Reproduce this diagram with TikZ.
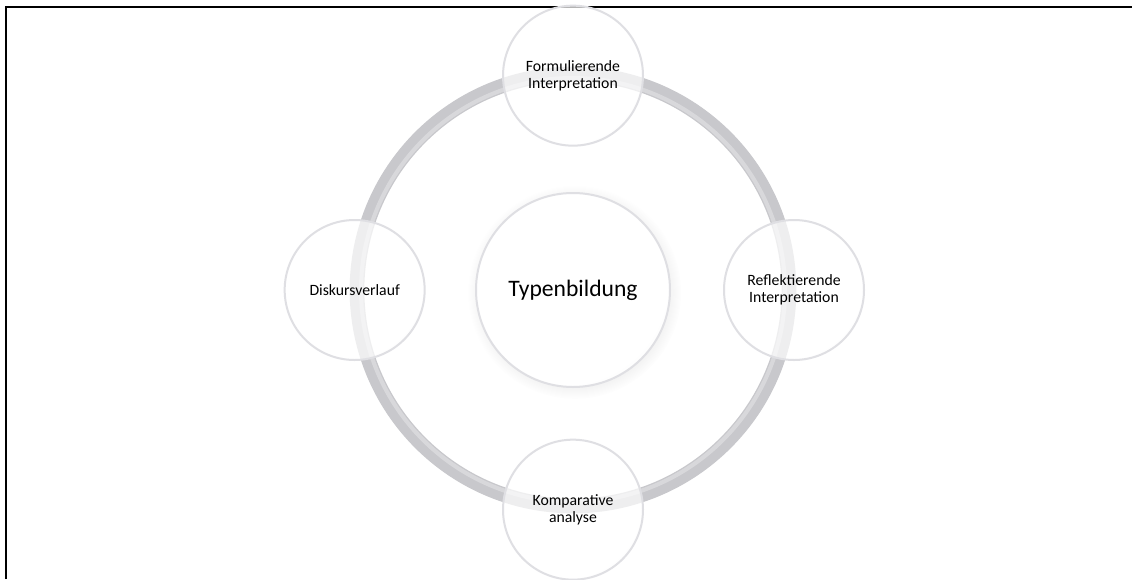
\documentclass[tikz,border=0pt]{standalone}
\usepackage{fontspec}
\setmainfont{Carlito}
\usetikzlibrary{positioning, shadows}
\definecolor{ringgray}{RGB}{200,200,204}
\definecolor{rimgray}{RGB}{215,215,220}
\pgfdeclareradialshading{bubbleshade}{\pgfpoint{-4bp}{4bp}}{color(0bp)=(white); color(26bp)=(white); color(43bp)=(rimgray!50!white); color(50bp)=(rimgray!85!white)}
\tikzstyle{bubble} = [circle,
			draw=rimgray!80!white,
			line width=1.5pt,
			shading=bubbleshade,
			fill opacity=0.7,
			text opacity=1,
			inner sep=0pt,
			align=center,
			minimum size=105pt,
			font=\fontsize{11.8}{12.8}\selectfont]
\tikzstyle{hub} = [bubble,
			fill opacity=1,
			minimum size=145.5pt,
			font=\fontsize{17.7}{21}\selectfont]
\tikzstyle{ring} = [draw=ringgray, line width=11pt]

\begin{document}
\begin{tikzpicture}[x=0.75pt, y=-0.75pt]
	\useasboundingbox [fill=white] (0,0) rectangle (1132,579);
	\draw [line width=1.5pt] (5.5,579) -- (5.5,6.5) -- (1132,6.5);
	% centre
	\node [hub, circular drop shadow={opacity=0.12, shadow xshift=1pt, shadow yshift=-1.5pt}] (typ) at (573,290) {Typenbildung};
	% ring behind the outer circles
	\path [ring] (typ.center) circle [radius=162pt];
	\draw [white, opacity=0.3, line width=3pt] (typ.center) circle [radius=159pt];
	% outer circles
	\node [bubble, above=34pt of typ] (formul) {Formulierende\\Interpretation};
	\node [bubble, right=39pt of typ] (reflekt) {Reflektierende\\Interpretation};
	\node [bubble, below=38pt of typ] (kompar) {Komparative\\analyse};
	\node [bubble, left=37pt of typ] (diskurs) {Diskursverlauf};
\end{tikzpicture}
\end{document}
